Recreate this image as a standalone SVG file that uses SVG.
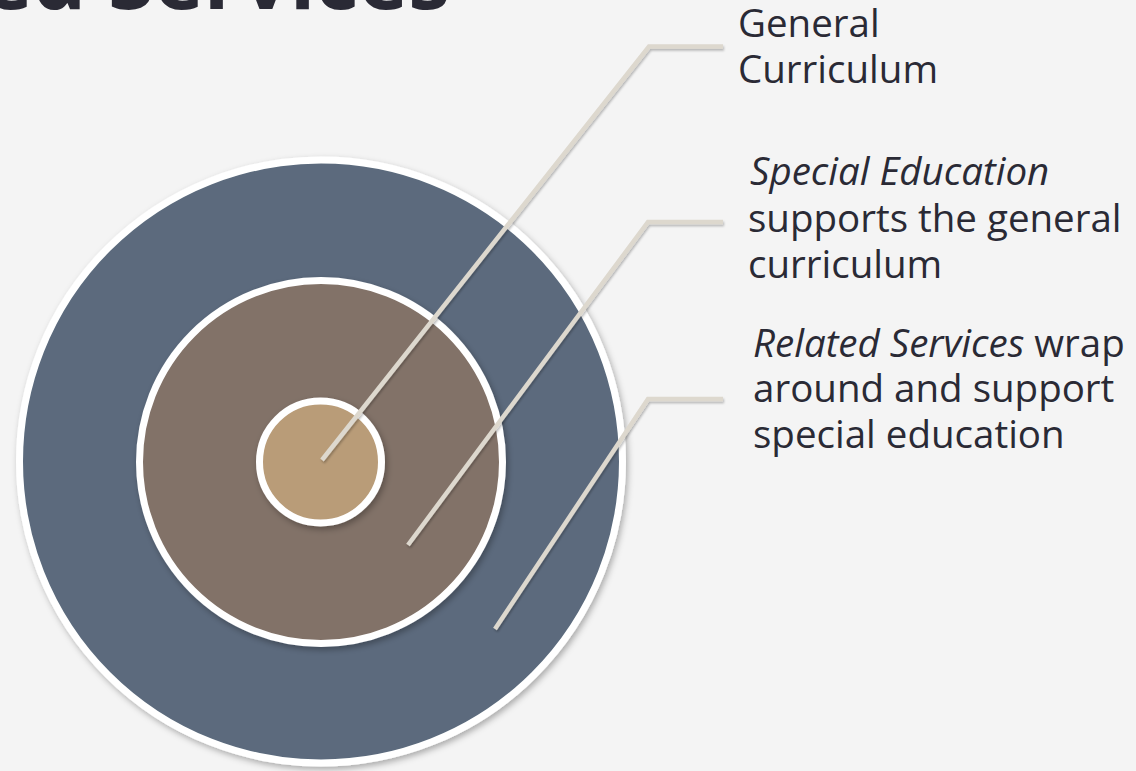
<svg xmlns="http://www.w3.org/2000/svg" width="1136" height="771" viewBox="0 0 1136 771">
<defs>
<style>
.lbl{font-family:"Open Sans","Liberation Sans",sans-serif;font-size:38.5px;fill:#2a2a35}
.it{font-style:italic}
.title{font-family:"Open Sans","Liberation Sans",sans-serif;font-weight:bold;font-size:84px;fill:#2a2a35}
.ring{stroke:#ffffff;stroke-width:7}
.conn{fill:none;stroke:#ddd8ce;stroke-width:4.5;stroke-linejoin:miter}
</style>
<filter id="sh" x="-20%" y="-20%" width="140%" height="140%">
<feDropShadow dx="2" dy="3" stdDeviation="3" flood-color="#000" flood-opacity="0.3"/>
</filter>
<filter id="lsh" x="-20%" y="-20%" width="140%" height="140%">
<feDropShadow dx="1" dy="2" stdDeviation="1.2" flood-color="#000" flood-opacity="0.25"/>
</filter>
</defs>
<rect width="1136" height="771" fill="#f4f4f4"/>
<text class="title" x="450" y="9" text-anchor="end">Related Services</text>
<g id="outer">
<circle class="ring" cx="321" cy="461.5" r="301.5" fill="#5b6b7d" filter="url(#sh)"/>
</g>
<g id="middle">
<circle class="ring" cx="321" cy="462" r="181.5" fill="#827268" filter="url(#sh)"/>
</g>
<g id="inner">
<circle class="ring" cx="320.5" cy="462" r="61" fill="#b99c78" filter="url(#sh)"/>
</g>
<g id="connectors" filter="url(#lsh)">
<path class="conn" d="M322,460 L649,46.5 L723,46.5"/>
<path class="conn" d="M408,545 L648,222 L723,222"/>
<path class="conn" d="M495,629 L648,399 L723,399"/>
</g>
<g id="label-general">
<text class="lbl" x="738" y="37">General</text>
<text class="lbl" x="738" y="83">Curriculum</text>
</g>
<g id="label-special">
<text class="lbl it" x="750" y="185">Special Education</text>
<text class="lbl" x="748" y="232">supports the general</text>
<text class="lbl" x="748" y="278">curriculum</text>
</g>
<g id="label-related">
<text class="lbl" x="753" y="357"><tspan class="it">Related Services</tspan> wrap</text>
<text class="lbl" x="753" y="402">around and support</text>
<text class="lbl" x="753" y="448">special education</text>
</g>
</svg>
